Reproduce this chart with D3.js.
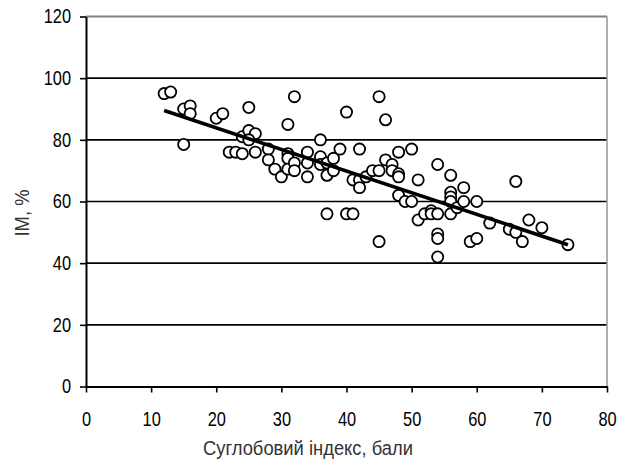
<!DOCTYPE html>
<html>
<head>
<meta charset="utf-8">
<script src="https://cdn.jsdelivr.net/npm/d3@7"></script>
<style>
  body { margin: 0; background: #fff; }
  svg { display: block; }
  text { font-family: "Liberation Sans", Arial, sans-serif; }
</style>
</head>
<body>
<svg id="chart" width="628" height="459"></svg>
<script>
// Data
// ----
const jointIndex = [12, 13, 15, 16, 16, 15, 20, 21, 25, 24, 25, 26, 25, 22, 23, 24, 26, 28, 28, 29,
  30, 31, 32, 31, 31, 31, 32, 32, 34, 34, 34, 36, 36, 36, 37, 37, 37, 38, 38, 39,
  40, 40, 41, 41, 42, 42, 42, 43, 44, 45, 45, 45, 46, 46, 47, 47, 48, 48, 48, 48,
  49, 50, 50, 51, 51, 52, 53, 53, 54, 54, 54, 54, 54, 56, 56, 56, 56, 56, 57, 58,
  58, 59, 60, 60, 62, 65, 66, 66, 67, 68, 70, 74];
const imPercent = [95, 95.5, 90, 91, 88.5, 78.5, 87, 88.5, 90.5, 81, 83, 82, 80, 76, 76, 75.5, 76, 77, 73.5, 70.5,
  68, 85, 94, 75.5, 74, 70.5, 72.5, 70, 76, 72.5, 68, 80, 74.5, 72, 72.5, 68.5, 56, 74, 70, 77,
  89, 56, 56, 67, 77, 67, 64.5, 68, 70, 94, 70, 47, 86.5, 73.5, 72, 70, 76, 69, 68, 62,
  60, 77, 60, 67, 54, 56, 57, 56, 72, 56, 49.5, 48, 42, 68.5, 63, 61.5, 60, 56, 58, 64.5,
  60, 47, 60, 48, 53, 51, 66.5, 50, 47, 54, 51.5, 46];

// trend line (start / end)
const trendX = [12, 74];
const trendY = [89.5, 46];

const xTicks = [0, 10, 20, 30, 40, 50, 60, 70, 80];
const yTicks = [0, 20, 40, 60, 80, 100, 120];

const xTitle = "Суглобовий індекс, бали";
const yTitle = "IM, %";

// Layout
// ------
const plotLeft = 86, plotRight = 607, plotTop = 16.5, plotBottom = 386.5;
const narrow = 0.82; // the original uses a narrow face, squeeze Liberation Sans

const svg = d3.select("#chart");

const x = d3.scaleLinear().domain([0, 80]).range([plotLeft, plotRight]);
const y = d3.scaleLinear().domain([0, 120]).range([plotBottom, plotTop]);

// gridlines
svg.append("g")
  .selectAll("line")
  .data(yTicks.filter(d => d > 0 && d < 120))
  .join("line")
  .attr("x1", plotLeft).attr("x2", plotRight)
  .attr("y1", d => y(d)).attr("y2", d => y(d))
  .attr("stroke", "#000")
  .attr("stroke-width", 1.6);

// plot border top / right (gray)
svg.append("line")
  .attr("x1", plotLeft).attr("x2", plotRight)
  .attr("y1", plotTop).attr("y2", plotTop)
  .attr("stroke", "#808080").attr("stroke-width", 2.2);
svg.append("line")
  .attr("x1", plotRight).attr("x2", plotRight)
  .attr("y1", plotTop).attr("y2", plotBottom)
  .attr("stroke", "#9a9a9a").attr("stroke-width", 1.6);

// axes
const xAxis = svg.append("g")
  .attr("transform", `translate(0,${plotBottom})`)
  .call(d3.axisBottom(x).tickValues(xTicks).tickSize(6).tickPadding(19).tickSizeOuter(0));
const yAxis = svg.append("g")
  .attr("transform", `translate(${plotLeft},0)`)
  .call(d3.axisLeft(y).tickValues(yTicks).tickSize(6).tickPadding(9).tickSizeOuter(0));

[xAxis, yAxis].forEach(g => {
  g.attr("font-family", null);
  g.select(".domain").attr("stroke", "#000").attr("stroke-width", 2);
  g.selectAll(".tick line").attr("stroke", "#000").attr("stroke-width", 1.6);
  g.selectAll(".tick text")
    .attr("fill", "#000")
    .attr("transform", `scale(${narrow},1)`)
    .style("font-size", "20px");
});
// keep right edge of y labels where it was before the squeeze
yAxis.selectAll(".tick text").attr("x", -15 / narrow);

// points
const pts = jointIndex.map((d, i) => ({ x: d, y: imPercent[i] }));
svg.append("g")
  .selectAll("circle")
  .data(pts)
  .join("circle")
  .attr("cx", d => x(d.x))
  .attr("cy", d => y(d.y))
  .attr("r", 5.6)
  .attr("fill", "#fff")
  .attr("stroke", "#000")
  .attr("stroke-width", 1.8);

// trend line
svg.append("path")
  .datum(trendX.map((d, i) => [d, trendY[i]]))
  .attr("d", d3.line().x(d => x(d[0])).y(d => y(d[1])))
  .attr("fill", "none")
  .attr("stroke", "#000")
  .attr("stroke-width", 3.6);

// titles
svg.append("text")
  .attr("x", 308)
  .attr("y", 455)
  .attr("text-anchor", "middle")
  .attr("fill", "#333")
  .attr("textLength", 210)
  .attr("lengthAdjust", "spacingAndGlyphs")
  .style("font-size", "20px")
  .text(xTitle);

svg.append("text")
  .attr("transform", "translate(28.5,213) rotate(-90)")
  .attr("text-anchor", "middle")
  .attr("fill", "#333")
  .attr("textLength", 47)
  .attr("lengthAdjust", "spacingAndGlyphs")
  .style("font-size", "20px")
  .text(yTitle);
</script>
</body>
</html>
